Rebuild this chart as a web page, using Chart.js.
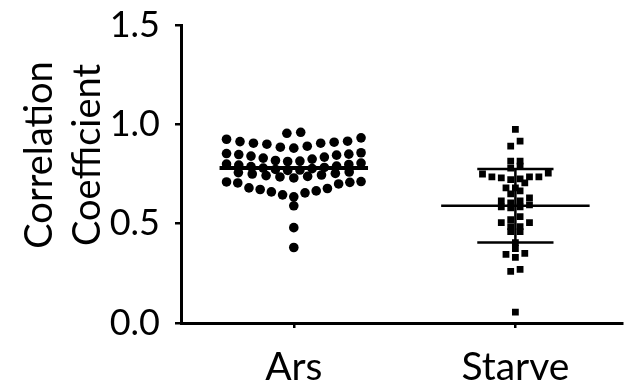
<!DOCTYPE html>
<html>
<head>
<meta charset="utf-8">
<script src="https://cdn.jsdelivr.net/npm/chart.js@4"></script>
<style>
  html, body { margin: 0; padding: 0; background: #fff; }
  #wrap { width: 627px; height: 390px; }
</style>
</head>
<body>
<div id="wrap"><canvas id="chart"></canvas></div>
<script>
// values
var categories = ['Ars', 'Starve'];
var titleLines = ['Correlation', 'Coefficient'];
var yTicks = [0, 0.5, 1.0, 1.5];

var arsValues = [
    0.96, 0.955,
    0.932, 0.925, 0.915, 0.913, 0.91, 0.905, 0.905, 0.90, 0.89, 0.885, 0.88,
    0.857, 0.853, 0.85, 0.848, 0.845, 0.84, 0.835, 0.83, 0.825, 0.818, 0.815, 0.813,
    0.805, 0.80, 0.798, 0.795, 0.79, 0.787, 0.783, 0.78, 0.777, 0.773, 0.77, 0.768,
    0.76, 0.757, 0.753, 0.75, 0.745, 0.742, 0.738, 0.735, 0.73,
    0.712, 0.71, 0.708, 0.705, 0.70, 0.68, 0.677, 0.672, 0.665, 0.66, 0.655, 0.645, 0.635,
    0.59, 0.48, 0.38
];
var starveValues = [
    0.975, 0.915, 0.89, 0.815, 0.815, 0.79, 0.78,
    0.755, 0.75, 0.735, 0.735, 0.735, 0.73, 0.725, 0.722,
    0.705, 0.68, 0.68, 0.665, 0.65,
    0.63, 0.615, 0.615, 0.605, 0.595, 0.585, 0.585, 0.58,
    0.535, 0.52, 0.505, 0.505, 0.485, 0.485, 0.46, 0.46,
    0.405, 0.375, 0.35, 0.345, 0.33, 0.27, 0.26, 0.055
];
var groupMeans = [0.78, 0.59];
var groupSD = [null, 0.185];

// dot plot layout: values are binned in rows, and spread sideways in each row
function swarm(values, center, edges, spacing, maxWidth) {
    var rows = {};
    values.forEach(function (v) {
        var r = edges.filter(function (e) { return v < e; }).length;
        if (!rows[r]) rows[r] = [];
        rows[r].push(v);
    });
    var pts = [];
    Object.keys(rows).forEach(function (k) {
        var row = rows[k].slice().sort(function (a, b) { return a - b; });
        var n = row.length;
        var step = n > 1 ? Math.min(spacing, maxWidth / (n - 1)) : 0;
        var slots = [];
        for (var i = 0; i < n; i++) slots.push((i - (n - 1) / 2) * step);
        slots.sort(function (a, b) { return Math.abs(a) - Math.abs(b) || a - b; });
        row.forEach(function (v, i) { pts.push({x: center + slots[i], y: v}); });
    });
    return pts;
}

var arsEdges = [0.94, 0.875, 0.81, 0.765, 0.72, 0.62, 0.55, 0.43];
var starveEdges = [];
for (var k = 1; k <= 26; k++) starveEdges.push(0.04 * k - 0.002);

var arsPoints = swarm(arsValues, 1, arsEdges, 0.0625, 0.607);
var starvePoints = swarm(starveValues, 2, starveEdges, 0.0424, 1);

function hLine(cx, half, y, width) {
    return {
        type: 'line',
        data: [{x: cx - half, y: y}, {x: cx + half, y: y}],
        borderColor: '#000',
        borderWidth: width,
        pointRadius: 0,
        borderCapStyle: 'butt'
    };
}

var datasets = [
    {
        label: categories[0],
        data: arsPoints,
        pointStyle: 'circle',
        pointRadius: 4.8,
        pointBorderWidth: 0,
        backgroundColor: '#000'
    },
    {
        label: categories[1],
        data: starvePoints,
        pointStyle: 'rect',
        pointRadius: 4.8,
        pointBorderWidth: 0,
        backgroundColor: '#000'
    }
];
groupMeans.forEach(function (m, i) {
    datasets.push(hLine(i + 1, 0.335, m, i === 0 ? 4 : 2.5));
    if (groupSD[i] != null) {
        var hi = m + groupSD[i], lo = m - groupSD[i];
        datasets.push(hLine(i + 1, 0.172, hi, 2.5));
        datasets.push(hLine(i + 1, 0.172, lo, 2.5));
        datasets.push({
            type: 'line',
            data: [{x: i + 1, y: lo}, {x: i + 1, y: hi}],
            borderColor: '#000',
            borderWidth: 2.5,
            pointRadius: 0
        });
    }
});

var yTitle = {
    id: 'yTitle',
    afterDraw: function (chart) {
        var ctx = chart.ctx;
        var area = chart.chartArea;
        var mid = (area.top + area.bottom) / 2 - 19;
        ctx.save();
        ctx.fillStyle = '#000';
        ctx.font = '38px Lato';
        ctx.textAlign = 'center';
        ctx.textBaseline = 'alphabetic';
        ctx.rotate(-Math.PI / 2);
        ctx.fillText(titleLines[0], -mid, 52);
        ctx.fillText(titleLines[1], -mid, 100);
        ctx.restore();
    }
};

var bg = {
    id: 'bg',
    beforeDraw: function (chart) {
        var ctx = chart.ctx;
        ctx.save();
        ctx.fillStyle = '#fff';
        ctx.fillRect(0, 0, chart.width, chart.height);
        ctx.restore();
    }
};

new Chart(document.getElementById('chart'), {
    type: 'scatter',
    data: {datasets: datasets},
    plugins: [bg, yTitle],
    options: {
        responsive: true,
        maintainAspectRatio: false,
        animation: false,
        layout: {padding: {top: 25, right: 0, left: 0, bottom: 0}},
        plugins: {legend: {display: false}, tooltip: {enabled: false}},
        scales: {
            x: {
                type: 'linear',
                min: 0.491,
                max: 2.482,
                afterBuildTicks: function (scale) {
                    scale.ticks = categories.map(function (c, i) { return {value: i + 1}; });
                },
                afterFit: function (scale) {
                    scale.height = 67;
                    scale.paddingLeft = 0;
                    scale.paddingRight = 0;
                },
                grid: {drawOnChartArea: false, drawTicks: true, tickLength: 5, color: '#000', lineWidth: 2.5},
                border: {display: true, color: '#000', width: 3},
                ticks: {
                    color: '#000',
                    font: {family: 'Lato', size: 39},
                    padding: 16,
                    maxRotation: 0,
                    callback: function (v) { return categories[v - 1]; }
                }
            },
            y: {
                min: 0,
                max: 1.5,
                afterBuildTicks: function (scale) {
                    scale.ticks = yTicks.map(function (v) { return {value: v}; });
                },
                afterFit: function (scale) {
                    scale.width = 181;
                    scale.paddingTop = 0;
                    scale.paddingBottom = 0;
                },
                grid: {drawOnChartArea: false, drawTicks: true, tickLength: 6, color: '#000', lineWidth: 2.5},
                border: {display: true, color: '#000', width: 3},
                ticks: {
                    color: '#000',
                    font: {family: 'Lato', size: 36},
                    padding: 15,
                    callback: function (v) { return v.toFixed(1); }
                }
            }
        }
    }
});
</script>
</body>
</html>
